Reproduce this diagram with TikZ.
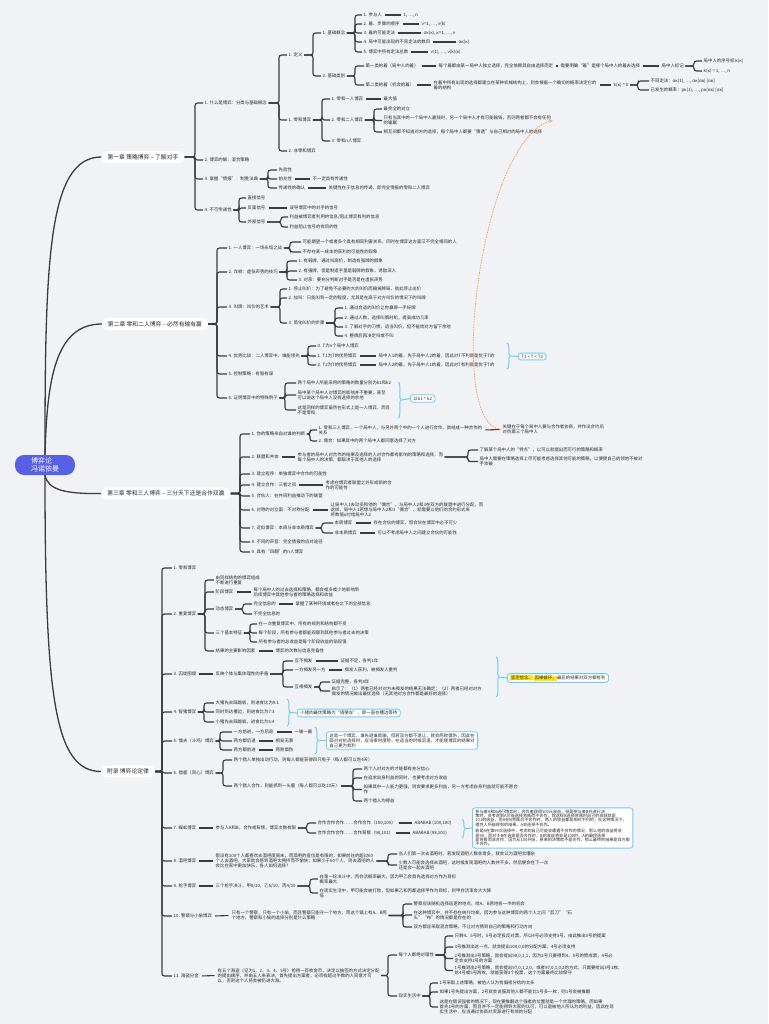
\documentclass[tikz,border=0pt]{standalone}
\usepackage{fontspec}
\setmainfont{Noto Sans CJK SC}
\usetikzlibrary{decorations.pathreplacing,arrows.meta}
\definecolor{bg}{RGB}{240,242,245}
\definecolor{ln}{RGB}{60,60,60}
\definecolor{txt}{RGB}{40,40,40}
\definecolor{rootc}{RGB}{88,96,230}
\definecolor{cy}{RGB}{110,205,240}
\definecolor{org}{RGB}{246,165,95}
\definecolor{hl}{RGB}{255,228,20}
\newcommand\ft{\fontsize{4.4}{4.9}\selectfont}
\newcommand\br[3][8]{\draw[conn] (#2.east) -| ([xshift=-#1pt]#3.west) -- (#3.west);}
\newcommand\lk[2]{\draw[conn,shorten <=1.5pt,shorten >=1.5pt] (#1.east) -- (#2.west);}
\begin{document}
\begin{tikzpicture}[x=1pt,y=-1pt,
 t/.style={anchor=west,font=\ft,text=txt,inner xsep=1.5pt,inner ysep=0.6pt,align=left},
 chap/.style={font=\fontsize{5.8}{6.5}\selectfont,text=txt,fill=white,rounded corners=6pt,inner xsep=6pt,inner ysep=3.2pt},
 conn/.style={draw=ln,line width=1.1pt,rounded corners=2.5pt},
 rootln/.style={draw=ln,line width=1.3pt},
 brc/.style={draw=cy,line width=1pt,decorate,decoration={brace,amplitude=3.5pt}},
 cyl/.style={draw=cy,line width=1pt},
 sbox/.style={draw=cy,line width=0.9pt,fill=white,rounded corners=2.5pt,font=\ft,text=txt,anchor=west,align=left,inner xsep=3pt,inner ysep=1.8pt},
 rel/.style={draw=org,line width=0.8pt,dash pattern=on 1.6pt off 1pt,-{Stealth[length=3.5pt,width=3pt]}}
]
\fill[bg] (0,0) rectangle (768,1024);
\useasboundingbox (0,0) rectangle (768,1024);

% ---------- root and chapters
\node[fill=rootc,text=white,rounded corners=9pt,minimum width=60pt,minimum height=20pt,font=\fontsize{7}{8.2}\selectfont,align=left,inner sep=2pt] (root) at (45,465) {博弈论\\冯诺依曼};
\node[chap] (c1) at (143,157) {第一章 策略博弈 -- 了解对手};
\node[chap] (c2) at (155,324) {第二章 零和二人博弈 -- 必然有输有赢};
\node[chap] (c3) at (166,493.5) {第三章 零和三人博弈 -- 三分天下还是合作双赢};
\node[chap] (c4) at (128,771.5) {附录 博弈论定律};

% ---------- chapter 1
\node[t] (a1) at (203,103) {1. 什么是博弈：分类与基础概念};
\node[t] (a2) at (203,160) {2. 博弈的解：混合策略};
\node[t] (a3) at (203,179) {3. 掌握“情报”：制胜法典};
\node[t] (a4) at (203,210) {4. 不可传递性};
\node[t] (a11) at (287,55) {1. 定义};
\node[t] (a12) at (287,120) {1. 零和博弈};
\node[t] (a13) at (287,151) {2. 非零和博弈};
\node[t] (a111) at (321,33) {1. 基础概念};
\node[t] (a112) at (321,76) {2. 基础类别};
\node[t] (b1) at (362,15) {1. 参与人};
\node[t] (v1) at (402,15) {1, …, n};
\node[t] (b2) at (362,24) {2. 着、步骤的顺序};
\node[t] (v2) at (420,24) {ν=1, …, ν(k)};
\node[t] (b3) at (362,33) {3. 着的可能走法};
\node[t] (v3) at (422,33) {σκ(κ), κ=1, …, ν};
\node[t] (b4) at (362,42) {4. 局中可能出现的不同走法的数目};
\node[t] (v4) at (457,42) {ακ(κ)};
\node[t] (b5) at (362,52) {5. 博弈中所有走法总数};
\node[t] (v5) at (429,52) {ν(1), …, ν(k)(κ)};
\node[t] (c1a) at (364,66) {第一类的着（局中人的着）};
\node[t] (c1b) at (437,66) {每个着都由某一局中人独立选择，完全依赖其自由选择而定};
\node[t] (c1c) at (559,66) {需要明确“着”是哪个局中人的着去选择};
\node[t] (c1d) at (660,66) {局中人标记};
\node[t] (c1e) at (702,61) {局中人的序号标 k(κ)};
\node[t] (c1f) at (702,71) {k(κ) = 1, …, n};
\node[t] (c2a) at (364,85) {第二类的着（机会的着）};
\node[t] (c2b) at (432,85) {在着中所有出现的选择都建立在某种机械结构上，则会根据一个确切的概率决定它的\\着的结构};
\node[t] (c2c) at (612,85) {k(κ) = 0};
\node[t] (c2d) at (649,81) {不同走法：ακ(1), …, ακ(ακ) [ακ]};
\node[t] (c2e) at (649,90) {已发生的概率：pκ(1), …, pκ(ακ) [ακ]};
\node[t] (d1) at (330,99) {1. 零和一人博弈};
\node[t] (d1v) at (382,99) {最大值};
\node[t] (d2) at (330,120) {2. 零和二人博弈};
\node[t] (d2a) at (382,109) {最完全的对立};
\node[t] (d2b) at (382,120.5) {只有当其中的一个局中人赢钱时，另一个局中人才有可能输钱，否则两者都不会有任何\\的输赢};
\node[t] (d2c) at (382,132) {相互间都不知道对方的选择，每个局中人都要“猜透”与自己相对的局中人的选择};
\node[t] (d3) at (330,141) {3. 零和n人博弈};
\node[t] (a3a) at (277,170) {先验性};
\node[t] (a3b) at (277,179) {前兆性};
\node[t] (a3bv) at (311,179) {不一定具有传递性};
\node[t] (a3c) at (277,188) {传递性的确认};
\node[t] (a3cv) at (327,188) {关键性在于信息的传递，即完全情报的零和二人博弈};
\node[t] (a4a) at (246,198) {直接信号};
\node[t] (a4b) at (246,208) {反面信号};
\node[t] (a4bv) at (288,208) {误导博弈中的对手的信号};
\node[t] (a4c) at (246,222) {外部信号};
\node[t] (a4d) at (288,217) {利益被博弈者利用的信息/阻止博弈有利的信息};
\node[t] (a4e) at (288,227) {利益阻止信号的有目的性};

% ---------- chapter 2
\node[t] (e1) at (227,248) {1. 一人博弈：一场永恒之战};
\node[t] (e1a) at (301,242) {可能期望一个或者多个具有相同利害关系，同时在博弈这方面又不完全相同的人};
\node[t] (e1b) at (301,252) {不存在某一成本的获利的可能性的现象};
\node[t] (e2) at (227,272) {2. 诈唬：虚张声势的技巧};
\node[t] (e2a) at (297,261) {1. 有弱牌，通过叫高价，制造有强牌的假象};
\node[t] (e2b) at (297,271) {2. 有强牌，但是制造手里是弱牌的假象，诱敌深入};
\node[t] (e2c) at (297,280) {3. 对家：要充分判断对手是否是在虚张声势};
\node[t] (e3) at (227,307) {3. 叫牌：叫价的艺术};
\node[t] (e3a) at (287,289) {1. 停止叫价：为了避免不必要的大的叫价而输掉牌局，就此停止出价};
\node[t] (e3b) at (287,298) {2. 加叫：只能叫到一定的程度，尤其是在高于对方叫价的情况下的叫牌};
\node[t] (e3c) at (287,323) {3. 简化叫价的步骤};
\node[t] (e3d) at (343,308) {1. 通过合适的叫价让你赢得一手好牌};
\node[t] (e3e) at (343,318) {2. 通过人数，选择叫牌时机，提高成功几率};
\node[t] (e3f) at (343,327) {3. 了解对手的习惯，适当叫价，但不能给对方留下余地};
\node[t] (e3g) at (343,336) {4. 整牌后再决定叫或不叫};
\node[t] (e4) at (227,356) {4. 优势比较：二人博弈中，谁能领先};
\node[t] (e4a) at (316,346) {0. T为n个局中人博弈};
\node[t] (e4b) at (316,356) {1. T1为T的优势博弈};
\node[t] (e4bv) at (377,356) {局中人1的着，先于局中人2的着，因此对T不利就是优于T的};
\node[t] (e4c) at (316,365) {2. T2为T的优势博弈};
\node[t] (e4cv) at (377,365) {局中人2的着，先于局中人1的着，因此对T有利就是优于T的};
\node[t] (e5) at (227,374) {5. 控制策略：有智有谋};
\node[t] (e6) at (227,398) {6. 证明博弈中的特殊例子};
\node[t] (e6a) at (296,383) {两个局中人所能采用的策略的数量分别为k1和k2};
\node[t] (e6b) at (296,395) {局中某个局中人对博弈的影响并不重要，甚至\\可以说这个局中人没有选择的余地};
\node[t] (e6c) at (296,410) {这是同样的博弈虽然在形式上是一人博弈，而且\\不是零和};
\node[sbox] (eB1) at (518,356.5) {T1 < T < T2};
\node[sbox] (eB2) at (410,398.5) {以k1 = k2};

% ---------- chapter 3
\node[t] (f1) at (250,434) {1. 你的策略来自对谁的判断};
\node[t] (f1a) at (317,430) {1. 零和三人博弈，一个局中人，与另外两个中的一个人进行合作，就结成一种合作的\\关系};
\node[t] (f1b) at (501,429.5) {关键在于每个局中人要与合作者协商，并作出合约后\\对抗第三个局中人};
\node[t] (f1c) at (317,441) {2. 偶合：如果其中的两个局中人都同意选择了对方};
\node[t] (f2) at (250,457) {2. 联盟和共体};
\node[t] (f2a) at (296,457) {参与者的局中人对合作的结果及选择的人对合作都有影响的策略和选择，而\\每个局中人的决策，都取决于其他人的选择};
\node[t] (f2b) at (478,450) {了解某个局中人的“特点”，以可以就提出而可行的策略和概率};
\node[t] (f2c) at (478,461.5) {局中人需要在策略选择上尽可能考虑选择其他可能的策略，以便使自己的领地不被对\\手攻破};
\node[t] (f3) at (250,474) {3. 建立程序：单独博弈中合作的可能性};
\node[t] (f4) at (250,485) {4. 建立合作：三者之间};
\node[t] (f4a) at (324,485) {考虑在博弈者联盟之外形成新的合\\作的可能性};
\node[t] (f5) at (250,496) {5. 合伙人：在共同利益推动下的联盟};
\node[t] (f6) at (250,510) {6. 对称的对立面：不对称分配};
\node[t] (f6a) at (329,510) {让局中人1去动员和他的“偶合”，与局中人2和3在双方的联盟中进行分配，而\\这样，局中人1若想与局中人2和3“偶合”，就需要以他们的合约形式来\\将数值α付给局中人2};
\node[t] (f7) at (250,528) {7. 近似博弈：本质与非本质博弈};
\node[t] (f7a) at (333,523) {本质博弈};
\node[t] (f7av) at (372,523) {存在合伙的博弈，而合伙在博弈中必不可少};
\node[t] (f7b) at (333,533) {非本质博弈};
\node[t] (f7bv) at (376,533) {可以不考虑局中人之间建立合伙的可能性};
\node[t] (f8) at (250,542) {8. 不同的声音：完全情报的应对途径};
\node[t] (f9) at (250,552) {9. 具有“四翻”的n人博弈};

% ---------- appendix
\node[t] (g1) at (172,568) {1. 零和博弈};
\node[t] (g2) at (172,614) {2. 重复博弈};
\node[t] (g2a) at (214,580) {由同样结构的博弈组成\\不断进行重复};
\node[t] (g2b) at (214,592) {阶段博弈};
\node[t] (g2bv) at (252,592) {每个局中人的过去选择和策略，都会或多或少地影响到\\后续博弈中其他参与者的策略选择和收益};
\node[t] (g2c) at (214,609) {动态博弈};
\node[t] (g2d) at (252,604) {完全信息的};
\node[t] (g2dv) at (294,604) {掌握了某种环境或者在之下的全部信息};
\node[t] (g2e) at (252,614) {不完全信息的};
\node[t] (g2f) at (214,633) {三个基本特征};
\node[t] (g2g) at (257,624) {在一次重复博弈中，所有的规则和结构都不变};
\node[t] (g2h) at (257,633) {每个阶段，所有参与者都能观察到其他参与者过去的决策};
\node[t] (g2i) at (257,642) {所有参与者的总收益是每个阶段收益的贴现值};
\node[t] (g2j) at (214,651) {结果的主要影响因素};
\node[t] (g2jv) at (274,651) {博弈的次数与信息完备性};
\node[t] (g3) at (172,674) {3. 囚徒困境};
\node[t] (g3a) at (214,674) {反映个体与集体理性的矛盾};
\node[t] (g3b) at (293,661) {互不揭发};
\node[t] (g3bv) at (339,661) {证据不足，各判1年};
\node[t] (g3c) at (293,670) {一方揭发另一方};
\node[t] (g3cv) at (343,670) {揭发人获利，被揭发人重判};
\node[t] (g3d) at (293,687) {互相揭发};
\node[t] (g3e) at (330,682) {证据完整，各判8年};
\node[t] (g3f) at (330,691) {启示了：（1）两者已经对对方未揭发的结果无法确定；（2）两者已经对对方\\揭发的情况做出最优选择（无其他对方合作都是最好的选择）};
\node[sbox] (gB1) at (507,678) {{\setlength{\fboxsep}{0.4pt}\colorbox{hl}{坚定信念、}\hspace{1pt}\colorbox{hl}{因果循环，}}最后的结果对双方都有利};
\node[t] (g4) at (172,712) {4. 智猪博弈};
\node[t] (g4a) at (214,703) {大猪先去踩踏板，则进食比为9:1};
\node[t] (g4b) at (214,712) {同时到达槽边，则进食比为7:3};
\node[t] (g4c) at (214,722) {小猪先去踩踏板，进食比为6:4};
\node[sbox] (gB2) at (297,713) {小猪的最优策略为“搭便车”，即一直在槽边等待};
\node[t] (g5) at (172,741) {5. 懦夫（斗鸡）博弈};
\node[t] (g5a) at (232,732) {一方前进，一方后退};
\node[t] (g5av) at (293,732) {一输一赢};
\node[t] (g5b) at (232,741) {两方都后退};
\node[t] (g5bv) at (274,741) {相安无事};
\node[t] (g5c) at (232,750) {两方都前进};
\node[t] (g5cv) at (274,750) {两败俱伤};
\node[sbox] (gB3) at (326,740.5) {这是一个博弈，谁先退谁就输，但若双方都不退让，就会两败俱伤；因此在\\面对对抗选择时，应当审时度势，在适当的时候后退，才能使博弈的结果对\\自己更为有利};
\node[t] (g6) at (172,773) {6. 猎鹿（同心）博弈};
\node[t] (g6a) at (232,760) {两个猎人单独出动行动，则每人都能获得四只兔子（每人都可以吃4天）};
\node[t] (g6b) at (232,786) {两个猎人合作，则能抓到一头鹿（每人都可以吃10天）};
\node[t] (g6c) at (362,769) {两个人对对方的才能都有充分信心};
\node[t] (g6d) at (362,778) {在追求自身利益的同时，也要考虑对方收益};
\node[t] (g6e) at (362,789.5) {如果其中一人能力更强，则会要求更多利益，另一方考虑自身利益就可能不愿合\\作};
\node[t] (g6f) at (362,801) {两个猎人均得益};
\node[t] (g7) at (172,828) {7. 蜈蚣博弈};
\node[t] (g7a) at (214,828) {参与人A和B，合作或背叛，博弈次数有限};
\node[t] (g7b) at (316,823) {合作合作合作……合作合作（100,100）};
\node[t] (g7bv) at (413,823) {ABABAB (100,100)};
\node[t] (g7c) at (316,833) {合作合作合作……合作背叛（98,101）};
\node[t] (g7cv) at (411,833) {ABABAB (98,101)};
\node[sbox,font=\fontsize{4.1}{4.4}\selectfont] (gB4) at (472,828) {参与者A和B进行博弈时，合作者获得100元收益，但是参与者B在进行决\\策时，会考虑到A可能选择背叛而不合作，就这样B选择背叛时自己的收获就是\\101的收益，而A在B背叛后不合作时，两人的收益都是相对不利的，在这种情况下，\\理性人所能得到的结果，A会选择不合作。\\[2pt]若是A在第99次选择中，考虑到自己可能会遭遇不合作的情况，那么他的收益将会\\是99，而对于B在选择是否合作时，B的收益将会是100时，A的最优选择\\是背叛而非合作，因为从100开始，原来的决策就不是合作，那么最终的结果是双方都\\不合作。};
\node[t] (g8) at (172,861) {8. 酒吧博弈};
\node[t] (g8a) at (214,861) {假设有100个人都喜欢去酒吧度周末，而酒吧的座位是有限的，如果前往的超过60\\个人去酒吧，大家就会感到酒吧太拥挤而不愉快；如果少于60个人，则去酒吧的人\\会比在家中更加快乐，各人如何选择？};
\node[t] (g8b) at (397,854) {当人们第一次去酒吧时，若发现酒吧人数非常多，就会认为酒吧太嘈杂};
\node[t] (g8c) at (397,865) {少数人可能会选择去酒吧，这时候发现酒吧的人数并不多，然后便会在下一次\\还是会一起去酒吧};
\node[t] (g9) at (172,886) {9. 枪手博弈};
\node[t] (g9a) at (214,886) {三个枪手决斗，甲8/10，乙6/10，丙4/10};
\node[t] (g9b) at (318,879) {在第一轮决斗中，丙存活概率最大，因为甲乙会首先选择对方作为目标\\概率最大};
\node[t] (g9c) at (318,893) {在现实生活中，甲可能会被打败，但如果乙和丙都选择甲作为目标，则甲存活率会大大降\\低};
\node[t] (g10) at (172,916) {10. 警察与小偷博弈};
\node[t] (g10a) at (230,915.5) {只有一个警察，只有一个小偷，而且警察只能守一个地方，而这个镇上有A、B两\\个地方，警察和小偷的选择分别是什么策略};
\node[t] (g10b) at (412,904) {警察应该随机选择巡逻的地点，给A、B两地各一半的机会};
\node[t] (g10c) at (412,915) {在这种博弈中，并不存在纳什均衡，因为参与这种博弈的两个人之间“剪刀”“石\\头”“布”的情况都是存在的};
\node[t] (g10d) at (412,927) {双方都应采取混合策略，不让对方猜到自己的策略和行动方向};
\node[t] (g11) at (172,976) {11. 海盗分金};
\node[t] (g11a) at (216,975.5) {有五个海盗（记为1、2、3、4、5号）抢得一百枚金币，决定以抽签的方式决定分配\\的提出顺序，并由五人来表决，首先提出方案者，必须有超过半数的人同意才可\\以，否则这个人将会被扔进大海。};
\node[t] (h1) at (397,955) {每个人都绝对理性};
\node[t] (h1a) at (453,936) {只剩4、5号时，5号必定投反对票，所以4号必须支持3号，由此推出3号的提案};
\node[t] (h1b) at (453,947) {3号推测出这一点，就会提出100,0,0的分配方案，4号必须支持};
\node[t] (h1c) at (453,958.5) {2号推测出3号策略，就会提出98,0,1,1，因为2号只要得到4、5号的赞成票，4号必\\定会支持2号的方案};
\node[t] (h1d) at (453,970.5) {1号推测出2号策略，就会提出97,0,1,2,0，或者97,0,1,0,2的方式，只需要给出3号1枚，\\给4号或5号两枚，就能获得3个投票，这个方案最终比较保守};
\node[t] (h2) at (397,996) {现实生活中};
\node[t] (h2a) at (438,983) {1号采取上述策略，被他人认为有偏袒分给的太多};
\node[t] (h2b) at (438,992) {如果1号先提出方案，2号就会说服其他人都不能比1号多一枚，则1号会被推翻};
\node[t] (h2c) at (438,1007) {这是在假设强者的情况下，现在要推翻这个强者的位置就是一个合理的策略，而如果\\首先1号的方案，而且并不一定能得到大家的认可，可以是被他人所认为的利益，因此在现\\实生活中，应当通过协商对资源进行有效的分配};

% ---------- root curves
\draw[rootln] (root.north) .. controls (45,260) and (48,157) .. (c1.west);
\draw[rootln] (root.north) .. controls (47,380) and (55,324) .. (c2.west);
\draw[rootln] (root.south) .. controls (48,490) and (65,494) .. (c3.west);
\draw[rootln] (root.south) .. controls (45,700) and (55,771) .. (c4.west);

% ---------- brackets chapter 1
\foreach \c in {a1,a2,a3,a4}{\br{c1}{\c}}
\foreach \c in {a11,a12,a13}{\br{a1}{\c}}
\foreach \c in {a111,a112}{\br{a11}{\c}}
\foreach \c in {b1,b2,b3,b4,b5}{\br[7]{a111}{\c}}
\foreach \c in {c1a,c2a}{\br[9]{a112}{\c}}
\foreach \c in {c1e,c1f}{\br{c1d}{\c}}
\foreach \c in {c2d,c2e}{\br[11]{c2c}{\c}}
\foreach \c in {d1,d2,d3}{\br{a12}{\c}}
\foreach \c in {d2a,d2b,d2c}{\br{d2}{\c}}
\foreach \c in {a3a,a3b,a3c}{\br[9]{a3}{\c}}
\foreach \c in {a4a,a4b,a4c}{\br[7]{a4}{\c}}
\foreach \c in {a4d,a4e}{\br[7]{a4c}{\c}}
\lk{b1}{v1}\lk{b2}{v2}\lk{b3}{v3}\lk{b4}{v4}\lk{b5}{v5}
\lk{c1a}{c1b}\lk{c1b}{c1c}\lk{c1c}{c1d}
\lk{c2a}{c2b}\lk{c2b}{c2c}
\lk{d1}{d1v}\lk{a3b}{a3bv}\lk{a3c}{a3cv}\lk{a4b}{a4bv}

% ---------- brackets chapter 2
\foreach \c in {e1,e2,e3,e4,e5,e6}{\br[10]{c2}{\c}}
\foreach \c in {e1a,e1b}{\br[11]{e1}{\c}}
\foreach \c in {e2a,e2b,e2c}{\br[10]{e2}{\c}}
\foreach \c in {e3a,e3b,e3c}{\br[7]{e3}{\c}}
\foreach \c in {e3d,e3e,e3f,e3g}{\br{e3c}{\c}}
\foreach \c in {e4a,e4b,e4c}{\br{e4}{\c}}
\foreach \c in {e6a,e6b,e6c}{\br[11]{e6}{\c}}
\lk{e4b}{e4bv}\lk{e4c}{e4cv}
\coordinate (eBa1) at (507,343); \coordinate (eBa2) at (507,369); \coordinate (eBt) at (511,356);
\draw[brc] (eBa1) -- (eBa2); \draw[cyl] (eBt) -- (eB1.west);
\coordinate (eBb1) at (398,382); \coordinate (eBb2) at (398,418); \coordinate (eBu) at (402,400);
\draw[brc] (eBb1) -- (eBb2); \draw[cyl] (eBu) -- (eB2.west);

% ---------- brackets chapter 3
\foreach \c in {f1,f2,f3,f4,f5,f6,f7,f8,f9}{\br[10]{c3}{\c}}
\foreach \c in {f1a,f1c}{\br[7]{f1}{\c}}
\foreach \c in {f2b,f2c}{\br[10]{f2a}{\c}}
\foreach \c in {f7a,f7b}{\br[11]{f7}{\c}}
\lk{f1a}{f1b}\lk{f2}{f2a}\lk{f4}{f4a}\lk{f6}{f6a}\lk{f7a}{f7av}\lk{f7b}{f7bv}
\draw[rel] (f1b.west) .. controls (445,425) and (480,140) .. (d2b.east);

% ---------- brackets appendix
\foreach \c in {g1,g2,g3,g4,g5,g6,g7,g8,g9,g10,g11}{\br[10]{c4}{\c}}
\foreach \c in {g2a,g2b,g2c,g2f,g2j}{\br[9]{g2}{\c}}
\foreach \c in {g2d,g2e}{\br[9]{g2c}{\c}}
\foreach \c in {g2g,g2h,g2i}{\br[7]{g2f}{\c}}
\foreach \c in {g3b,g3c,g3d}{\br[10]{g3a}{\c}}
\foreach \c in {g3e,g3f}{\br[10]{g3d}{\c}}
\foreach \c in {g4a,g4b,g4c}{\br[10]{g4}{\c}}
\foreach \c in {g5a,g5b,g5c}{\br[12]{g5}{\c}}
\foreach \c in {g6a,g6b}{\br[9]{g6}{\c}}
\foreach \c in {g6c,g6d,g6e,g6f}{\br[9]{g6b}{\c}}
\foreach \c in {g7b,g7c}{\br[9]{g7a}{\c}}
\foreach \c in {g8b,g8c}{\br[9]{g8a}{\c}}
\foreach \c in {g9b,g9c}{\br{g9a}{\c}}
\foreach \c in {g10b,g10c,g10d}{\br[9]{g10a}{\c}}
\foreach \c in {h1,h2}{\br[9]{g11a}{\c}}
\foreach \c in {h1a,h1b,h1c,h1d}{\br{h1}{\c}}
\foreach \c in {h2a,h2b,h2c}{\br{h2}{\c}}
\lk{g2b}{g2bv}\lk{g2d}{g2dv}\lk{g2j}{g2jv}\lk{g3}{g3a}\lk{g3b}{g3bv}\lk{g3c}{g3cv}
\lk{g5a}{g5av}\lk{g5b}{g5bv}\lk{g5c}{g5cv}\lk{g7}{g7a}\lk{g7b}{g7bv}\lk{g7c}{g7cv}
\lk{g8}{g8a}\lk{g9}{g9a}\lk{g10}{g10a}\lk{g11}{g11a}
\coordinate (gBa1) at (496,657); \coordinate (gBa2) at (496,697); \coordinate (gBt) at (500,677);
\draw[brc] (gBa1) -- (gBa2); \draw[cyl] (gBt) -- (gB1.west);
\coordinate (gBb1) at (287,699); \coordinate (gBb2) at (287,726); \coordinate (gBu) at (291,712.5);
\draw[brc] (gBb1) -- (gBb2); \draw[cyl] (gBu) -- (gB2.west);
\coordinate (gBc1) at (315,727); \coordinate (gBc2) at (315,754); \coordinate (gBv) at (319,740.5);
\draw[brc] (gBc1) -- (gBc2); \draw[cyl] (gBv) -- (gB3.west);
\coordinate (gBd1) at (462,819); \coordinate (gBd2) at (462,838); \coordinate (gBw) at (466,828.5);
\draw[brc] (gBd1) -- (gBd2); \draw[cyl] (gBw) -- (gB4.west);
\end{tikzpicture}
\end{document}
